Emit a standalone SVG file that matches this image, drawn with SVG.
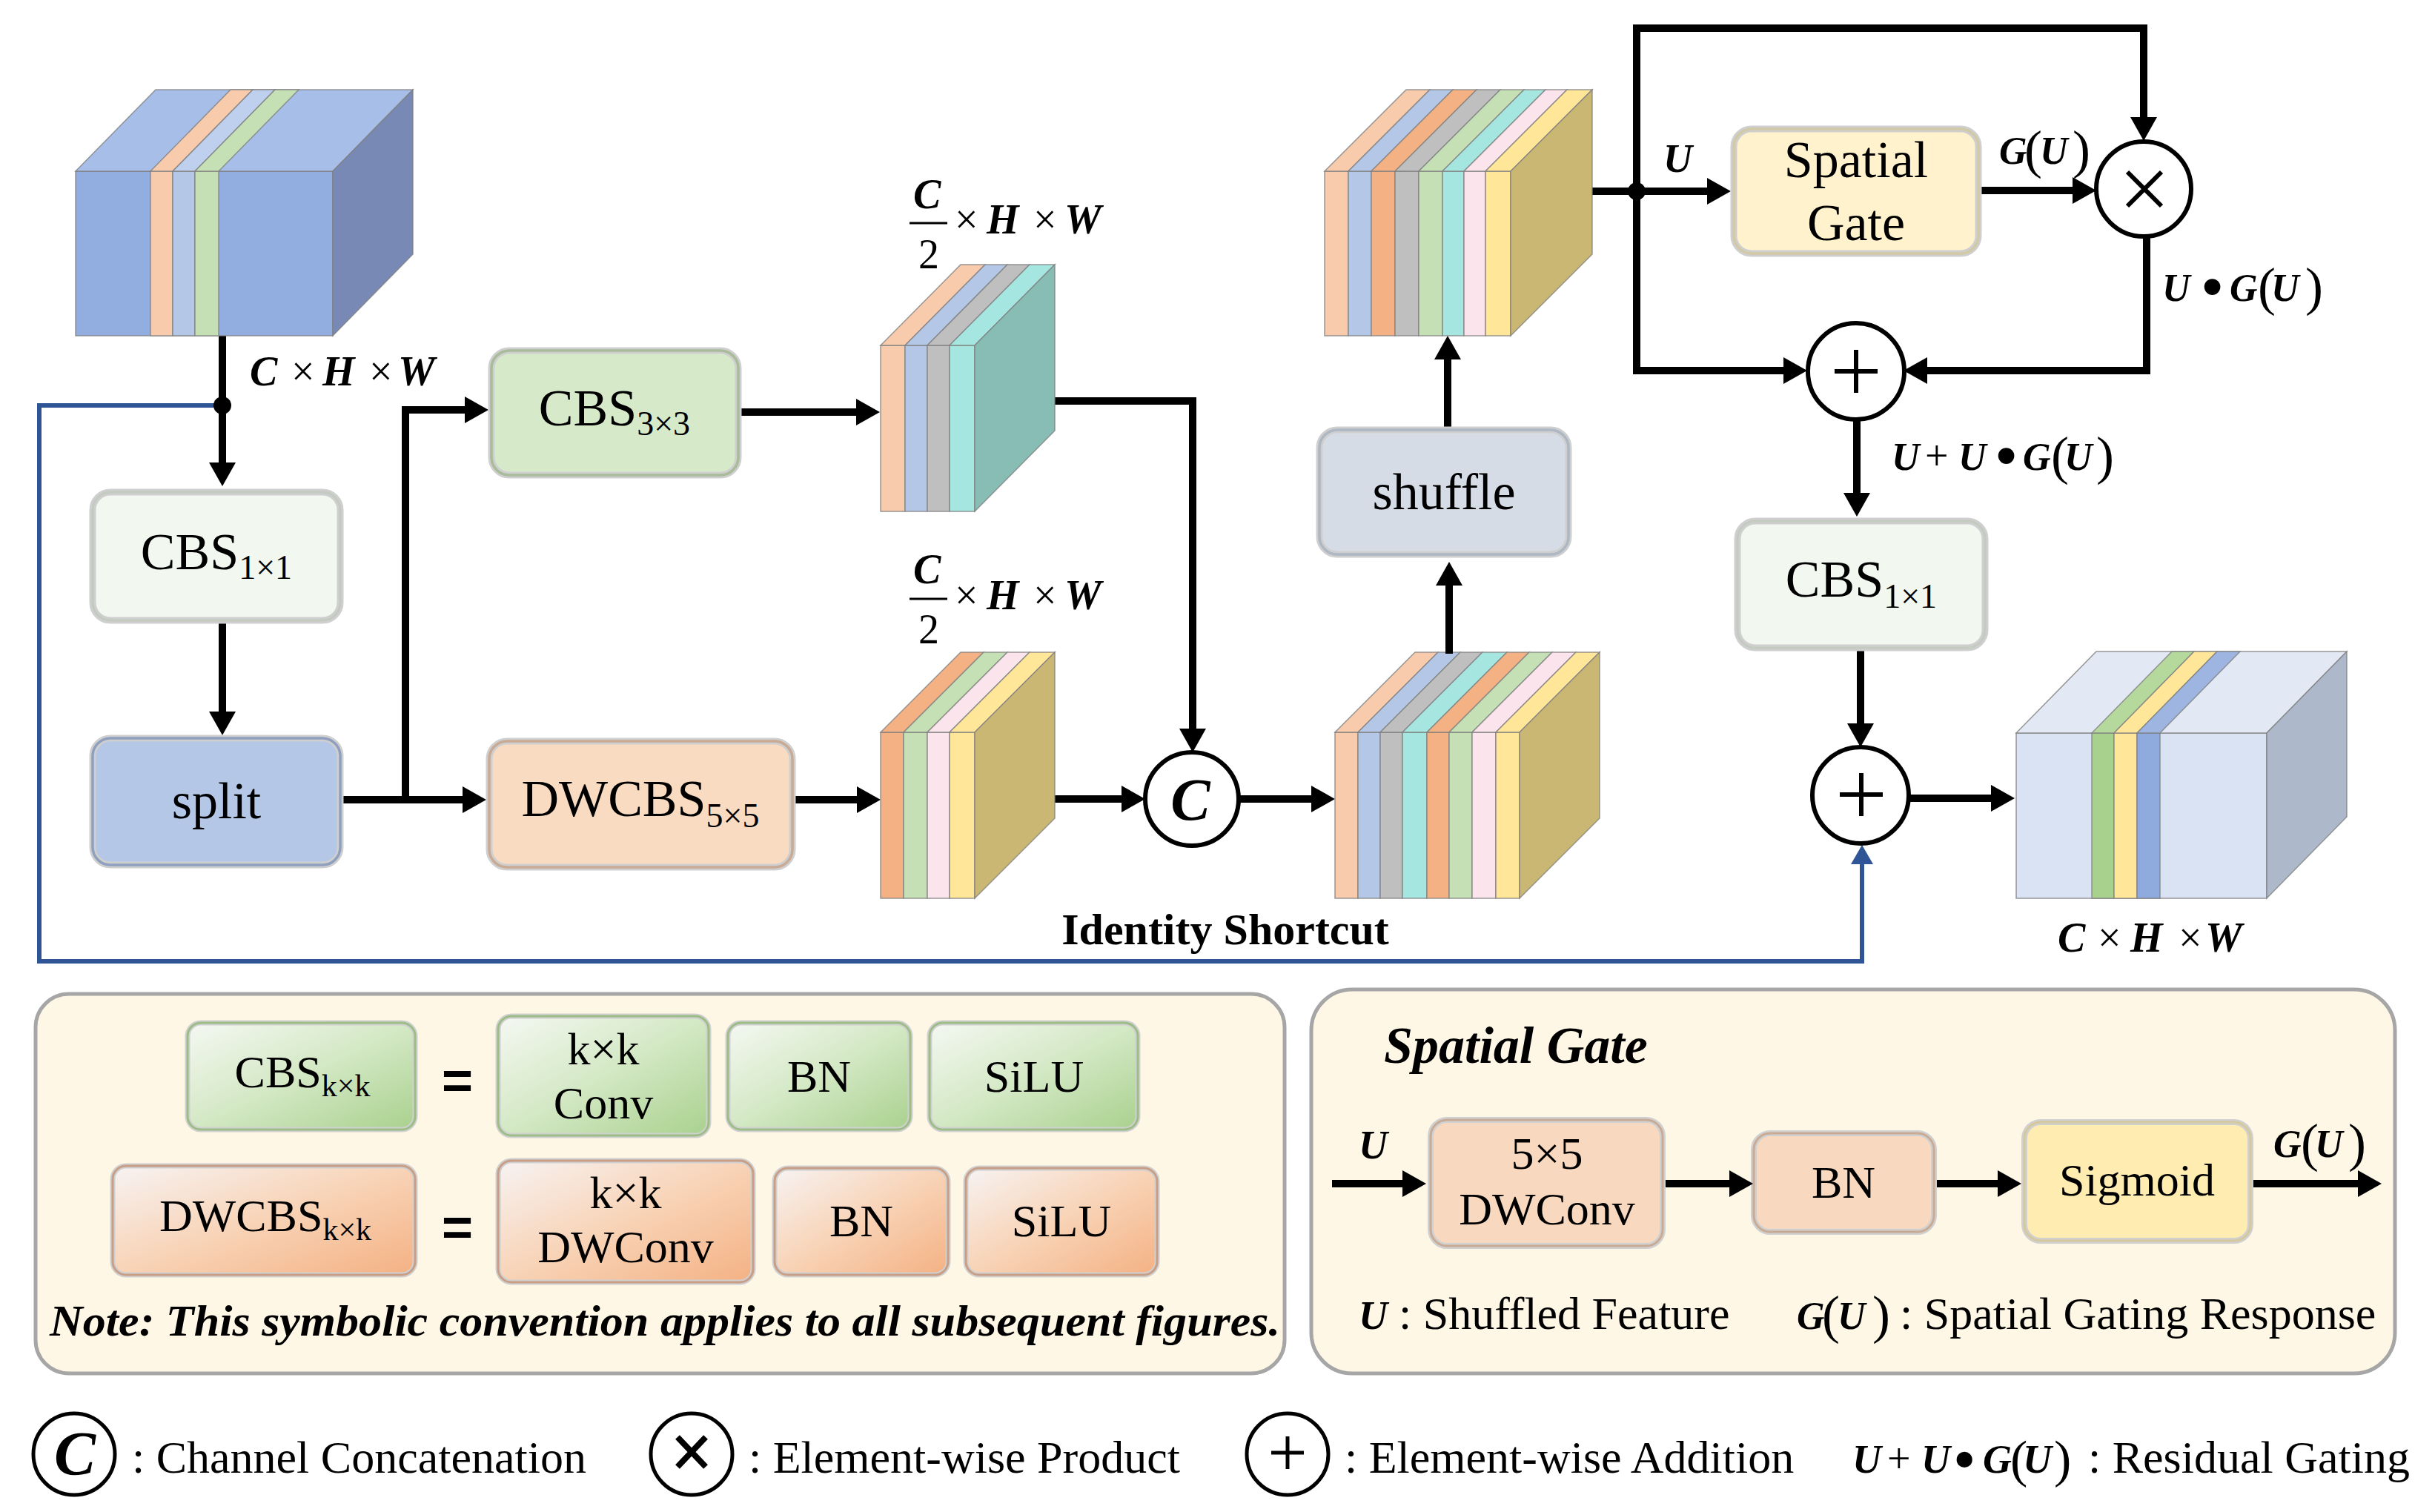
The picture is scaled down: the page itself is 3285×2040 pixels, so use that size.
<svg xmlns="http://www.w3.org/2000/svg" width="3285" height="2040" viewBox="0 0 3285 2040">
<defs>
<style>
.t{font-family:"Liberation Serif","Times New Roman",serif;fill:#000}
.n{font-size:70px}
.lg{font-size:62px}
.m{font-style:italic;font-weight:bold}
.op{font-style:normal;font-weight:normal}
.conn{fill:none;stroke:#000;stroke-width:10;marker-end:url(#ah)}
.line{fill:none;stroke:#000;stroke-width:10}
.blue{fill:none;stroke:#2F5597;stroke-width:6}
.halo{fill:none;stroke:#CFCFCF;stroke-width:9}
.cb{stroke:#7F7F7F;stroke-width:1.5;stroke-opacity:0.8}
.circ{fill:#fff;stroke:#000;stroke-width:6}
.sym{stroke:#000;stroke-width:6;fill:none}
</style>
<marker id="ah" markerUnits="userSpaceOnUse" viewBox="0 0 32 36" refX="12" refY="18" markerWidth="32" markerHeight="36" orient="auto">
<path d="M0,0 L32,18 L0,36 z" fill="#000"/>
</marker>
<marker id="ahb" markerUnits="userSpaceOnUse" viewBox="0 0 26 30" refX="10" refY="15" markerWidth="26" markerHeight="30" orient="auto">
<path d="M0,0 L26,15 L0,30 z" fill="#2F5597"/>
</marker>
<linearGradient id="gG" x1="0" y1="0" x2="1" y2="1">
<stop offset="0" stop-color="#F5F8F3"/><stop offset="0.5" stop-color="#D3E8C4"/><stop offset="1" stop-color="#A9D18E"/>
</linearGradient>
<linearGradient id="gO" x1="0" y1="0" x2="1" y2="1">
<stop offset="0" stop-color="#F7F3F3"/><stop offset="0.5" stop-color="#F8D3B6"/><stop offset="1" stop-color="#F4B183"/>
</linearGradient>
</defs>
<rect width="3285" height="2040" fill="#fff"/>

<!-- connectors -->
<g id="connectors">
<path class="blue" d="M300,547 H53 V1297 H2512 V1156" marker-end="url(#ahb)"/>
<path class="conn" d="M300,453 V636"/>
<path class="conn" d="M300,841 V972"/>
<path class="conn" d="M463,1079 H636"/>
<path class="conn" d="M547,1079 V553 H639"/>
<path class="conn" d="M1000,556 H1167"/>
<path class="conn" d="M1423,541 H1609 V995"/>
<path class="conn" d="M1073,1079 H1168"/>
<path class="conn" d="M1423,1078 H1525"/>
<path class="conn" d="M1671,1078 H1781"/>
<path class="conn" d="M1953,576 V473"/>
<path class="conn" d="M2148,258 H2315"/>
<path class="conn" d="M2208,258 V38 H2892 V170"/>
<path class="conn" d="M2673,257 H2808"/>
<path class="conn" d="M2896,319 V500 H2588"/>
<path class="conn" d="M2208,258 V500 H2418"/>
<path class="conn" d="M2505,567 V677"/>
<path class="conn" d="M2510,878 V988"/>
<path class="conn" d="M2575,1077 H2698"/>
<circle cx="300" cy="547" r="12" fill="#000"/>
<circle cx="2208" cy="258" r="12" fill="#000"/>
</g>

<!-- input cube -->
<g id="input-cube" class="cb">
<rect x="102" y="231" width="347" height="222" fill="#92ADE0"/>
<polygon points="102,231 210,121 557,121 449,231" fill="#A6BEE8"/>
<polygon points="449,231 557,121 557,343 449,453" fill="#7889B5"/>
<rect x="203" y="231" width="30" height="222" fill="#F8CBAD"/>
<rect x="233" y="231" width="30" height="222" fill="#B4C7E7"/>
<rect x="263" y="231" width="32" height="222" fill="#C5E0B4"/>
<polygon points="203,231 311,121 341,121 233,231" fill="#F8CBAD"/>
<polygon points="233,231 341,121 371,121 263,231" fill="#BFD0EE"/>
<polygon points="263,231 371,121 403,121 295,231" fill="#C5E0B4"/>
</g>
<g id="label-in">
<text class="t m" font-size="56" x="337" y="520">C</text>
<text class="t op" font-size="56" x="393" y="520">×</text>
<text class="t m" font-size="56" x="435" y="520">H</text>
<text class="t op" font-size="56" x="498" y="520">×</text>
<text class="t m" font-size="56" x="537" y="520">W</text>
</g>

<!-- nodes -->
<g id="cbs1x1-left">
<rect x="125" y="664" width="334" height="173" rx="24" fill="#F2F7EF"/>
<rect class="halo" x="125" y="664" width="334" height="173" rx="24"/>
<rect x="125" y="664" width="334" height="173" rx="24" fill="none" stroke="#C3CAC0" stroke-width="3"/>
<text class="t n" x="292" y="768" text-anchor="middle">CBS<tspan font-size="46" dy="13">1×1</tspan></text>
</g>
<g id="split">
<rect x="125" y="996" width="334" height="171" rx="24" fill="#B4C7E7"/>
<rect class="halo" x="125" y="996" width="334" height="171" rx="24"/>
<rect x="125" y="996" width="334" height="171" rx="24" fill="none" stroke="#8FA0BE" stroke-width="3.5"/>
<text class="t n" x="292" y="1104" text-anchor="middle">split</text>
</g>
<g id="cbs3x3">
<rect x="663" y="473" width="333" height="168" rx="24" fill="#D6EACA"/>
<rect class="halo" x="663" y="473" width="333" height="168" rx="24"/>
<rect x="663" y="473" width="333" height="168" rx="24" fill="none" stroke="#A8BC99" stroke-width="3.5"/>
<text class="t n" x="829" y="574" text-anchor="middle">CBS<tspan font-size="46" dy="13">3×3</tspan></text>
</g>
<g id="dwcbs5x5">
<rect x="660" y="1000" width="409" height="170" rx="24" fill="#F8DBC0"/>
<rect class="halo" x="660" y="1000" width="409" height="170" rx="24"/>
<rect x="660" y="1000" width="409" height="170" rx="24" fill="none" stroke="#C9AB95" stroke-width="3.5"/>
<text class="t n" x="864" y="1101" text-anchor="middle">DWCBS<tspan font-size="46" dy="15">5×5</tspan></text>
</g>

<!-- upper half stack -->
<g id="stack-top" class="cb">
<rect x="1188" y="466" width="33" height="224" fill="#F8CBAD"/>
<rect x="1221" y="466" width="30" height="224" fill="#B4C7E7"/>
<rect x="1251" y="466" width="30" height="224" fill="#BFBFBF"/>
<rect x="1281" y="466" width="34" height="224" fill="#A5E6E0"/>
<polygon points="1188,466 1296,357 1329,357 1221,466" fill="#F8CBAD"/>
<polygon points="1221,466 1329,357 1359,357 1251,466" fill="#B4C7E7"/>
<polygon points="1251,466 1359,357 1389,357 1281,466" fill="#BFBFBF"/>
<polygon points="1281,466 1389,357 1423,357 1315,466" fill="#A5E6E0"/>
<polygon points="1315,466 1423,357 1423,581 1315,690" fill="#87BDB4"/>
</g>
<g id="label-half-top">
<text class="t m" font-size="56" x="1232" y="281">C</text>
<line x1="1227" y1="301" x2="1278" y2="301" stroke="#000" stroke-width="3"/>
<text class="t" font-size="56" x="1239" y="362">2</text>
<text class="t op" font-size="56" x="1288" y="315">×</text>
<text class="t m" font-size="56" x="1331" y="315">H</text>
<text class="t op" font-size="56" x="1394" y="315">×</text>
<text class="t m" font-size="56" x="1436" y="315">W</text>
</g>

<!-- lower half stack -->
<g id="stack-bottom" class="cb">
<rect x="1188" y="988" width="31" height="224" fill="#F4B183"/>
<rect x="1219" y="988" width="32" height="224" fill="#C5E0B4"/>
<rect x="1251" y="988" width="30" height="224" fill="#FCE4EC"/>
<rect x="1281" y="988" width="34" height="224" fill="#FFE699"/>
<polygon points="1188,988 1296,880 1327,880 1219,988" fill="#F4B183"/>
<polygon points="1219,988 1327,880 1359,880 1251,988" fill="#C5E0B4"/>
<polygon points="1251,988 1359,880 1389,880 1281,988" fill="#FCE4EC"/>
<polygon points="1281,988 1389,880 1423,880 1315,988" fill="#FFE699"/>
<polygon points="1315,988 1423,880 1423,1104 1315,1212" fill="#CAB774"/>
</g>
<g id="label-half-bottom">
<text class="t m" font-size="56" x="1232" y="787">C</text>
<line x1="1227" y1="808" x2="1278" y2="808" stroke="#000" stroke-width="3"/>
<text class="t" font-size="56" x="1239" y="868">2</text>
<text class="t op" font-size="56" x="1288" y="822">×</text>
<text class="t m" font-size="56" x="1331" y="822">H</text>
<text class="t op" font-size="56" x="1394" y="822">×</text>
<text class="t m" font-size="56" x="1436" y="822">W</text>
</g>

<!-- concat -->
<g id="concat">
<circle class="circ" cx="1608" cy="1078" r="63"/>
<text class="t m" font-size="80" x="1606" y="1106" text-anchor="middle">C</text>
</g>

<g id="concat-cube" class="cb">
<rect x="1801" y="988" width="31" height="224" fill="#F8CBAD"/>
<rect x="1832" y="988" width="30" height="224" fill="#B4C7E7"/>
<rect x="1862" y="988" width="30" height="224" fill="#BFBFBF"/>
<rect x="1892" y="988" width="33" height="224" fill="#A5E6E0"/>
<rect x="1925" y="988" width="30" height="224" fill="#F4B183"/>
<rect x="1955" y="988" width="31" height="224" fill="#C5E0B4"/>
<rect x="1986" y="988" width="32" height="224" fill="#FCE4EC"/>
<rect x="2018" y="988" width="32" height="224" fill="#FFE699"/>
<polygon points="1801,988 1909,880 1940,880 1832,988" fill="#F8CBAD"/>
<polygon points="1832,988 1940,880 1970,880 1862,988" fill="#B4C7E7"/>
<polygon points="1862,988 1970,880 2000,880 1892,988" fill="#BFBFBF"/>
<polygon points="1892,988 2000,880 2033,880 1925,988" fill="#A5E6E0"/>
<polygon points="1925,988 2033,880 2063,880 1955,988" fill="#F4B183"/>
<polygon points="1955,988 2063,880 2094,880 1986,988" fill="#C5E0B4"/>
<polygon points="1986,988 2094,880 2126,880 2018,988" fill="#FCE4EC"/>
<polygon points="2018,988 2126,880 2158,880 2050,988" fill="#FFE699"/>
<polygon points="2050,988 2158,880 2158,1104 2050,1212" fill="#CAB774"/>
</g>
<g id="connector-concat-shuffle">
<path class="conn" d="M1955,882 V778"/>
</g>

<g id="shuffle">
<rect x="1780" y="580" width="336" height="168" rx="24" fill="#D6DCE5"/>
<rect class="halo" x="1780" y="580" width="336" height="168" rx="24"/>
<rect x="1780" y="580" width="336" height="168" rx="24" fill="none" stroke="#AEB7C4" stroke-width="3.5"/>
<text class="t n" x="1948" y="687" text-anchor="middle">shuffle</text>
</g>

<g id="shuffled-cube" class="cb">
<rect x="1787" y="231" width="32" height="222" fill="#F8CBAD"/>
<rect x="1819" y="231" width="31" height="222" fill="#B4C7E7"/>
<rect x="1850" y="231" width="32" height="222" fill="#F4B183"/>
<rect x="1882" y="231" width="32" height="222" fill="#BFBFBF"/>
<rect x="1914" y="231" width="32" height="222" fill="#C5E0B4"/>
<rect x="1946" y="231" width="29" height="222" fill="#A5E6E0"/>
<rect x="1975" y="231" width="29" height="222" fill="#FCE4EC"/>
<rect x="2004" y="231" width="34" height="222" fill="#FFE699"/>
<polygon points="1787,231 1897,121 1929,121 1819,231" fill="#F8CBAD"/>
<polygon points="1819,231 1929,121 1960,121 1850,231" fill="#B4C7E7"/>
<polygon points="1850,231 1960,121 1992,121 1882,231" fill="#F4B183"/>
<polygon points="1882,231 1992,121 2024,121 1914,231" fill="#BFBFBF"/>
<polygon points="1914,231 2024,121 2056,121 1946,231" fill="#C5E0B4"/>
<polygon points="1946,231 2056,121 2085,121 1975,231" fill="#A5E6E0"/>
<polygon points="1975,231 2085,121 2114,121 2004,231" fill="#FCE4EC"/>
<polygon points="2004,231 2114,121 2148,121 2038,231" fill="#FFE699"/>
<polygon points="2038,231 2148,121 2148,343 2038,453" fill="#CAB774"/>
</g>

<g id="spatial-gate">
<rect x="2339" y="174" width="330" height="168" rx="24" fill="#FFF2CC"/>
<rect class="halo" x="2339" y="174" width="330" height="168" rx="24"/>
<rect x="2339" y="174" width="330" height="168" rx="24" fill="none" stroke="#D2C9A6" stroke-width="3.5"/>
<text class="t n" x="2504" y="239" text-anchor="middle">Spatial</text>
<text class="t n" x="2504" y="324" text-anchor="middle">Gate</text>
</g>
<g id="label-U">
<text class="t m" font-size="54" x="2244" y="232">U</text>
</g>
<g id="label-GU">
<text class="t m" font-size="52" x="2697" y="221">G</text>
<text class="t op" font-size="72" x="2731" y="226">(</text>
<text class="t m" font-size="52" x="2752" y="221">U</text>
<text class="t op" font-size="72" x="2796" y="226">)</text>
</g>

<g id="product">
<circle class="circ" cx="2892" cy="255" r="64"/>
<path class="sym" d="M2870,232 L2916,278 M2916,232 L2870,278"/>
</g>
<g id="label-UGU">
<text class="t m" font-size="52" x="2917" y="406">U</text>
<text class="t m" font-size="80" x="2970" y="414">•</text>
<text class="t m" font-size="52" x="3008" y="406">G</text>
<text class="t op" font-size="72" x="3046" y="411">(</text>
<text class="t m" font-size="52" x="3064" y="406">U</text>
<text class="t op" font-size="72" x="3110" y="411">)</text>
</g>

<g id="add1">
<circle class="circ" cx="2504" cy="501" r="65"/>
<path class="sym" d="M2475,501 H2533 M2504,472 V530"/>
</g>
<g id="label-res">
<text class="t m" font-size="52" x="2552" y="634">U</text>
<text class="t op" font-size="56" x="2597" y="634">+</text>
<text class="t m" font-size="52" x="2642" y="634">U</text>
<text class="t m" font-size="80" x="2692" y="642">•</text>
<text class="t m" font-size="52" x="2729" y="634">G</text>
<text class="t op" font-size="72" x="2767" y="639">(</text>
<text class="t m" font-size="52" x="2785" y="634">U</text>
<text class="t op" font-size="72" x="2828" y="639">)</text>
</g>

<g id="cbs1x1-right">
<rect x="2344" y="703" width="334" height="171" rx="24" fill="#F2F7EF"/>
<rect class="halo" x="2344" y="703" width="334" height="171" rx="24"/>
<rect x="2344" y="703" width="334" height="171" rx="24" fill="none" stroke="#C3CAC0" stroke-width="3"/>
<text class="t n" x="2511" y="805" text-anchor="middle">CBS<tspan font-size="46" dy="15">1×1</tspan></text>
</g>

<g id="add2">
<circle class="circ" cx="2510" cy="1073" r="65"/>
<path class="sym" d="M2482,1072 H2540 M2511,1043 V1101"/>
</g>

<g id="output-cube" class="cb">
<rect x="2720" y="989" width="338" height="223" fill="#DAE3F3"/>
<polygon points="2720,989 2828,879 3166,879 3058,989" fill="#E2E9F5"/>
<polygon points="3058,989 3166,879 3166,1102 3058,1212" fill="#ADB9CA"/>
<rect x="2822" y="989" width="30" height="223" fill="#A9D18E"/>
<rect x="2852" y="989" width="31" height="223" fill="#FFE699"/>
<rect x="2883" y="989" width="31" height="223" fill="#8FAADC"/>
<polygon points="2822,989 2930,879 2960,879 2852,989" fill="#B5D89C"/>
<polygon points="2852,989 2960,879 2991,879 2883,989" fill="#FFE699"/>
<polygon points="2883,989 2991,879 3022,879 2914,989" fill="#9DB5E0"/>
</g>
<g id="label-out">
<text class="t m" font-size="56" x="2776" y="1284">C</text>
<text class="t op" font-size="56" x="2830" y="1284">×</text>
<text class="t m" font-size="56" x="2874" y="1284">H</text>
<text class="t op" font-size="56" x="2939" y="1284">×</text>
<text class="t m" font-size="56" x="2975" y="1284">W</text>
</g>

<text class="t" font-size="60" font-weight="bold" x="1653" y="1274" text-anchor="middle">Identity Shortcut</text>

<!-- left legend -->
<g id="legend-cbs">
<rect x="48" y="1341" width="1685" height="512" rx="45" fill="#FFF7E6" stroke="#A6A6A6" stroke-width="5"/>
<g id="leg-cbs">
<rect x="253" y="1380" width="307" height="144" rx="18" fill="url(#gG)" stroke="#D0D0D0" stroke-width="7"/>
<rect x="253" y="1380" width="307" height="144" rx="18" fill="none" stroke="#9DBD87" stroke-width="3"/>
<text class="t lg" x="408" y="1467" text-anchor="middle">CBS<tspan font-size="42" dy="12">k×k</tspan></text>
</g>
<text x="617" y="1482" font-family="Liberation Sans, Arial, sans-serif" font-weight="bold" font-size="72" text-anchor="middle">=</text>
<g id="leg-conv">
<rect x="672" y="1371" width="284" height="161" rx="18" fill="url(#gG)" stroke="#D0D0D0" stroke-width="7"/>
<rect x="672" y="1371" width="284" height="161" rx="18" fill="none" stroke="#9DBD87" stroke-width="3"/>
<text class="t lg" x="814" y="1436" text-anchor="middle">k×k</text>
<text class="t lg" x="814" y="1509" text-anchor="middle">Conv</text>
</g>
<g id="leg-bn1">
<rect x="982" y="1380" width="246" height="144" rx="18" fill="url(#gG)" stroke="#D0D0D0" stroke-width="7"/>
<rect x="982" y="1380" width="246" height="144" rx="18" fill="none" stroke="#9DBD87" stroke-width="3"/>
<text class="t lg" x="1105" y="1473" text-anchor="middle">BN</text>
</g>
<g id="leg-silu1">
<rect x="1254" y="1380" width="281" height="144" rx="18" fill="url(#gG)" stroke="#D0D0D0" stroke-width="7"/>
<rect x="1254" y="1380" width="281" height="144" rx="18" fill="none" stroke="#9DBD87" stroke-width="3"/>
<text class="t lg" x="1395" y="1473" text-anchor="middle">SiLU</text>
</g>
<g id="leg-dwcbs">
<rect x="152" y="1573" width="408" height="147" rx="18" fill="url(#gO)" stroke="#D0D0D0" stroke-width="7"/>
<rect x="152" y="1573" width="408" height="147" rx="18" fill="none" stroke="#C89F86" stroke-width="3"/>
<text class="t lg" x="358" y="1661" text-anchor="middle">DWCBS<tspan font-size="42" dy="12">k×k</tspan></text>
</g>
<text x="617" y="1680" font-family="Liberation Sans, Arial, sans-serif" font-weight="bold" font-size="72" text-anchor="middle">=</text>
<g id="leg-dwconv">
<rect x="672" y="1566" width="344" height="164" rx="18" fill="url(#gO)" stroke="#D0D0D0" stroke-width="7"/>
<rect x="672" y="1566" width="344" height="164" rx="18" fill="none" stroke="#C89F86" stroke-width="3"/>
<text class="t lg" x="844" y="1630" text-anchor="middle">k×k</text>
<text class="t lg" x="844" y="1703" text-anchor="middle">DWConv</text>
</g>
<g id="leg-bn2">
<rect x="1045" y="1576" width="234" height="144" rx="18" fill="url(#gO)" stroke="#D0D0D0" stroke-width="7"/>
<rect x="1045" y="1576" width="234" height="144" rx="18" fill="none" stroke="#C89F86" stroke-width="3"/>
<text class="t lg" x="1162" y="1668" text-anchor="middle">BN</text>
</g>
<g id="leg-silu2">
<rect x="1303" y="1576" width="258" height="144" rx="18" fill="url(#gO)" stroke="#D0D0D0" stroke-width="7"/>
<rect x="1303" y="1576" width="258" height="144" rx="18" fill="none" stroke="#C89F86" stroke-width="3"/>
<text class="t lg" x="1432" y="1668" text-anchor="middle">SiLU</text>
</g>
<text class="t m" font-size="60" x="67" y="1802" textLength="1660" lengthAdjust="spacingAndGlyphs">Note: This symbolic convention applies to all subsequent figures.</text>
</g>

<!-- right legend -->
<g id="legend-sg">
<rect x="1769" y="1335" width="1462" height="518" rx="55" fill="#FFF7E6" stroke="#A6A6A6" stroke-width="5"/>
<text class="t m" font-size="70" x="1867" y="1434">Spatial Gate</text>
<text class="t m" font-size="54" x="1833" y="1563">U</text>
<g id="sg-dwconv">
<rect x="1930" y="1511" width="313" height="170" rx="22" fill="#F8D9BF" stroke="#D0D0D0" stroke-width="8"/>
<rect x="1930" y="1511" width="313" height="170" rx="22" fill="none" stroke="#C9AB95" stroke-width="3"/>
<text class="t lg" x="2087" y="1577" text-anchor="middle">5×5</text>
<text class="t lg" x="2087" y="1652" text-anchor="middle">DWConv</text>
</g>
<g id="sg-bn">
<rect x="2366" y="1529" width="243" height="133" rx="22" fill="#F8D9BF" stroke="#D0D0D0" stroke-width="8"/>
<rect x="2366" y="1529" width="243" height="133" rx="22" fill="none" stroke="#C9AB95" stroke-width="3"/>
<text class="t lg" x="2487" y="1616" text-anchor="middle">BN</text>
</g>
<g id="sg-sigmoid">
<rect x="2731" y="1514" width="305" height="160" rx="22" fill="#FFECB0" stroke="#D0D0D0" stroke-width="8"/>
<rect x="2731" y="1514" width="305" height="160" rx="22" fill="none" stroke="#D4C89C" stroke-width="3"/>
<text class="t lg" x="2883" y="1613" text-anchor="middle">Sigmoid</text>
</g>
<g id="sg-connectors">
<path class="conn" d="M1797,1597 H1904"/>
<path class="conn" d="M2247,1597 H2345"/>
<path class="conn" d="M2613,1597 H2707"/>
<path class="conn" d="M3040,1597 H3193"/>
</g>
<text class="t m" font-size="52" x="3067" y="1561">G</text>
<text class="t op" font-size="72" x="3104" y="1566">(</text>
<text class="t m" font-size="52" x="3123" y="1561">U</text>
<text class="t op" font-size="72" x="3168" y="1566">)</text>
<text class="t m" font-size="54" x="1833" y="1793">U</text>
<text class="t lg" x="1887" y="1793">: Shuffled Feature</text>
<text class="t m" font-size="52" x="2424" y="1793">G</text>
<text class="t op" font-size="72" x="2458" y="1798">(</text>
<text class="t m" font-size="52" x="2479" y="1793">U</text>
<text class="t op" font-size="72" x="2526" y="1798">)</text>
<text class="t lg" x="2563" y="1793">: Spatial Gating Response</text>
</g>

<!-- bottom legend -->
<g id="legend-symbols">
<circle cx="100" cy="1962" r="55" fill="#fff" stroke="#000" stroke-width="5"/>
<text class="t m" font-size="84" x="101" y="1990" text-anchor="middle">C</text>
<text class="t lg" x="178" y="1987">: Channel Concatenation</text>
<circle cx="933" cy="1962" r="55" fill="#fff" stroke="#000" stroke-width="5"/>
<path d="M914,1939 L952,1979 M952,1939 L914,1979" stroke="#000" stroke-width="8"/>
<text class="t lg" x="1010" y="1987">: Element-wise Product</text>
<circle cx="1737" cy="1962" r="55" fill="#fff" stroke="#000" stroke-width="5"/>
<path d="M1715,1960 H1759 M1737,1938 V1982" stroke="#000" stroke-width="5"/>
<text class="t lg" x="1814" y="1987">: Element-wise Addition</text>
<text class="t m" font-size="54" x="2499" y="1987">U</text>
<text class="t op" font-size="56" x="2546" y="1987">+</text>
<text class="t m" font-size="54" x="2592" y="1987">U</text>
<text class="t m" font-size="78" x="2636" y="1995">•</text>
<text class="t m" font-size="54" x="2675" y="1987">G</text>
<text class="t op" font-size="70" x="2712" y="1992">(</text>
<text class="t m" font-size="54" x="2729" y="1987">U</text>
<text class="t op" font-size="70" x="2771" y="1992">)</text>
<text class="t lg" x="2817" y="1987">: Residual Gating</text>
</g>
</svg>
